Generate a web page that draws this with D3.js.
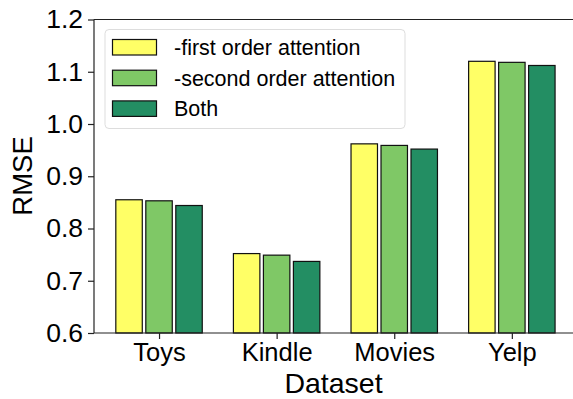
<!DOCTYPE html>
<html><head><meta charset="utf-8">
<script src="https://cdn.jsdelivr.net/npm/d3@7"></script>
<style>body{margin:0;background:#fff}svg{display:block}text{font-family:"Liberation Sans",Arial,sans-serif;fill:#000}</style>
</head><body><svg id="c" width="573" height="399"></svg>
<script>
const categories = ["Toys","Kindle","Movies","Yelp"];
const seriesNames = ["-first order attention","-second order attention","Both"];
const firstOrder = [0.855,0.752,0.962,1.120];
const secondOrder = [0.853,0.749,0.959,1.118];
const both = [0.844,0.737,0.952,1.112];
const yTicks = [0.6,0.7,0.8,0.9,1.0,1.1,1.2];
const colors = ["#ffff66","#7fc866","#238e63"];
const series = [firstOrder, secondOrder, both];

const svg = d3.select("#c");
const L=94, R=573, T=19.5, B=333;
const x = d3.scaleLinear().domain([-0.553,3.52]).range([L,R]);
const y = d3.scaleLinear().domain([0.6,1.2]).range([B,T]);
const off = 0.255, bw = 0.225;

const g = svg.append("g");
series.forEach((s,si)=>{
  g.selectAll(null).data(s).enter().append("rect")
   .attr("x",(d,i)=>x(i+(si-1)*off-bw/2))
   .attr("width",x(bw)-x(0))
   .attr("y",d=>y(d))
   .attr("height",d=>y(0.6)-y(d))
   .attr("fill",colors[si]).attr("stroke","#111").attr("stroke-width",1.2);
});

// axes
const yAxis = d3.axisLeft(y).tickValues(yTicks).tickFormat(d3.format(".1f")).tickSizeOuter(0).tickSize(6).tickPadding(5);
const ya = svg.append("g").attr("transform",`translate(${L},0)`).call(yAxis);
ya.selectAll("text").style("font-size","26.5px");
const xAxis = d3.axisBottom(x).tickValues([0,1,2,3]).tickFormat(i=>categories[i]).tickSizeOuter(0).tickSize(6).tickPadding(4);
const xa = svg.append("g").attr("transform",`translate(0,${B})`).call(xAxis);
xa.selectAll("text").style("font-size","25.5px");
svg.selectAll(".domain").remove();
svg.selectAll(".tick line").attr("stroke","#222").attr("stroke-width",1.2);
// spines
svg.append("line").attr("x1",L).attr("x2",L).attr("y1",T).attr("y2",B).attr("stroke","#222").attr("stroke-width",1.2);
svg.append("line").attr("x1",L).attr("x2",R).attr("y1",B).attr("y2",B).attr("stroke","#222").attr("stroke-width",1.2);
svg.append("line").attr("x1",L).attr("x2",R).attr("y1",T).attr("y2",T).attr("stroke","#222").attr("stroke-width",1.2);

svg.append("text").attr("x",(L+R)/2).attr("y",393).attr("text-anchor","middle").style("font-size","28.5px").text("Dataset");
svg.append("text").attr("transform","translate(32,176) rotate(-90)").attr("text-anchor","middle").style("font-size","27.5px").text("RMSE");

// legend
const lg = svg.append("g");
lg.append("rect").attr("x",105).attr("y",29.5).attr("width",300).attr("height",99).attr("rx",4)
  .attr("fill","#fff").attr("fill-opacity",0.8).attr("stroke","#ddd");
seriesNames.forEach((n,i)=>{
  const yy = 39.5 + i*30.7;
  lg.append("rect").attr("x",112.5).attr("y",yy).attr("width",44).attr("height",15.5)
    .attr("fill",colors[i]).attr("stroke","#111").attr("stroke-width",1.2);
  lg.append("text").attr("x",174).attr("y",yy+15.5).style("font-size","21.5px").text(n);
});
</script></body></html>
